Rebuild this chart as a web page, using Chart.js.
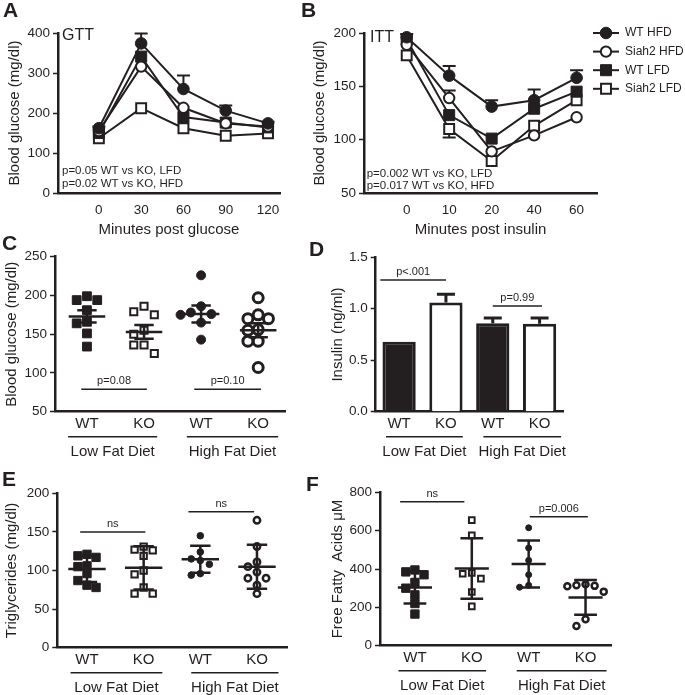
<!DOCTYPE html>
<html>
<head>
<meta charset="utf-8">
<title>Siah2 metabolic panels</title>
<script src="https://cdn.jsdelivr.net/npm/chart.js@4.4.1/dist/chart.umd.min.js"></script>
<style>
  html, body { margin: 0; background: #fff; }
  #figure { position: relative; width: 685px; height: 695px; }
  #figure canvas { position: absolute; left: 0; top: 0; }
</style>
</head>
<body>
<div id="figure">
  <canvas id="gtt" width="685" height="695"></canvas>
  <canvas id="itt" width="685" height="695"></canvas>
  <canvas id="glucose" width="685" height="695"></canvas>
  <canvas id="insulin" width="685" height="695"></canvas>
  <canvas id="tg" width="685" height="695"></canvas>
  <canvas id="ffa" width="685" height="695"></canvas>
</div>
<script>
const INK = "#231f20";
const PAPER = "#ffffff";
const FONT = 'Arial, "Liberation Sans", Helvetica, sans-serif';
const FIG_W = 685;
const FIG_H = 695;

// A - glucose tolerance test (mean, upward SEM)
const gttMinutes = [0, 30, 60, 90, 120];
const gttWtHfd = [162, 374, 260, 206, 174];
const gttWtHfdErr = [4, 25, 34, 13, 4];
const gttKoHfd = [155, 316, 213, 174, 166];
const gttWtLfd = [150, 341, 190, 176, 164];
const gttKoLfd = [137, 212, 162, 143, 149];

// B - insulin tolerance test
const ittMinutes = ["0", "10", "20", "40", "60"];
const ittWtHfd = [196, 160, 131, 137, 158];
const ittWtHfdErr = [3, 9, 6, 10, 7];
const ittKoHfd = [189, 139, 89, 104, 121];
const ittKoHfdErr = [0, 7, 0, 0, 0];
const ittWtLfd = [194, 123, 101, 129, 145];
const ittKoLfd = [179, 110, 80, 113, 137];
const ittKoLfdErr = [0, 8, 0, 0, 0];

const groupPos = [1, 2, 3, 4];
const groupLabels = ["WT", "KO", "WT", "KO"];

// C - fasting blood glucose, per mouse (mean ± SEM)
const bgWtLfd = [199, 194, 194, 181, 166, 164, 151, 134];
const bgKoLfd = [186, 179, 175, 155, 150, 136, 136, 125];
const bgWtHfd = [226, 186, 178, 176, 175, 165, 143];
const bgKoHfd = [197, 175, 170, 170, 156, 155, 141, 141, 107];
const bgMean = [173, 153, 176, 155];
const bgSem = [8, 9, 11, 9];

// D - insulin (mean + SEM)
const insulinMean = [0.68, 1.06, 0.86, 0.855];
const insulinSem = [0, 0.08, 0.05, 0.055];

// E - triglycerides (mean ± SD)
const tgWtLfd = [121, 119, 117, 106, 105, 96, 87, 81, 78];
const tgKoLfd = [131, 127, 126, 119, 100, 95, 78, 70, 70];
const tgWtHfd = [145, 124, 115, 113, 108, 96, 94];
const tgKoHfd = [165, 131, 111, 105, 98, 90, 90, 81, 70];
const tgMean = [102, 103.5, 114.5, 105];
const tgSd = [17, 28, 17.5, 28.5];

// F - free fatty acids (mean ± SD)
const ffaWtLfd = [395, 385, 370, 330, 300, 265, 220, 165];
const ffaKoLfd = [655, 575, 380, 375, 350, 280, 205];
const ffaWtHfd = [615, 510, 445, 370, 315, 305];
const ffaKoHfd = [320, 315, 312, 310, 282, 138, 103];
const ffaMean = [304, 403, 426, 252];
const ffaSd = [84, 158, 122, 91];

Chart.defaults.font.family = FONT;
Chart.defaults.color = INK;

const lineMarkers = [
  { shape: "circle", r: 5.8, fill: INK, bw: 1 },
  { shape: "circle", r: 5.2, fill: PAPER, bw: 2 },
  { shape: "rect", r: 7.8, fill: INK, bw: 1 },
  { shape: "rect", r: 7, fill: PAPER, bw: 2 },
];

// page box -> layout padding + fixed axis sizes
const frame = (box) => {
  const padLeft = box.yTitleX - 9;
  const padBottom = box.xTitleY ? FIG_H - box.xTitleY - 9 : FIG_H - box.bottom - 30;
  return {
    padding: { left: padLeft, top: box.top, right: FIG_W - box.right, bottom: padBottom },
    yWidth: box.left - padLeft,
    xHeight: FIG_H - padBottom - box.bottom,
  };
};

const yAxis = (min, max, step, title, width, fmt) => ({
  type: "linear",
  min,
  max,
  ticks: { stepSize: step, padding: 3, font: { size: 13.5 }, callback: fmt || ((v) => v) },
  grid: { drawOnChartArea: false, tickLength: 5, tickColor: INK, tickWidth: 1.5 },
  border: { color: INK, width: 2.5 },
  title: { display: true, text: title, font: { size: 15 }, padding: 0 },
  afterFit: (s) => { s.width = width; },
});

const xAxis = (min, max, values, labels, height, o) => ({
  type: "linear",
  min,
  max,
  afterBuildTicks: (s) => { s.ticks = values.map((v) => ({ value: v })); },
  ticks: { autoSkip: false, maxRotation: 0, padding: o.pad, font: { size: o.size }, callback: (v, i) => labels[i] },
  grid: { drawOnChartArea: false, drawTicks: false },
  border: { color: INK, width: 2.5 },
  title: { display: !!o.title, text: o.title || "", font: { size: 15 }, padding: 0 },
  afterFit: (s) => { s.height = height; },
});

const lineSet = (label, xs, ys, m, err, errDir) => ({
  label,
  data: xs.map((x, i) => ({ x, y: ys[i] })),
  err,
  errDir,
  clip: false,
  borderColor: INK,
  borderWidth: 2,
  pointStyle: m.shape,
  pointRadius: m.r,
  pointBackgroundColor: m.fill,
  pointBorderColor: INK,
  pointBorderWidth: m.bw,
});

// GraphPad-like column scatter: same-level points go side by side
const swarm = (values, pos, near, step) => {
  const placed = [];
  const slots = [0, -1, 1, -2, 2, -3, 3];
  return values.map((v) => {
    let k = slots.find((s) => !placed.some((p) => p.s === s && Math.abs(p.v - v) < near));
    if (k === undefined) k = 0;
    placed.push({ s: k, v });
    return { x: pos + k * step, y: v };
  });
};

const dotSet = (values, pos, m, near, step) => ({
  data: swarm(values, pos, near, step),
  clip: false,
  pointStyle: m.shape,
  pointRadius: m.r,
  pointBackgroundColor: m.fill,
  pointBorderColor: INK,
  pointBorderWidth: m.bw,
});

const decor = {
  id: "decor",
  beforeDatasetsDraw(chart, args, o) {
    const { ctx } = chart;
    const ys = chart.scales.y;
    ctx.save();
    ctx.strokeStyle = INK;
    ctx.lineWidth = o.errWidth || 2;
    chart.data.datasets.forEach((ds, i) => {
      if (!ds.err) return;
      chart.getDatasetMeta(i).data.forEach((pt, j) => {
        const e = ds.err[j];
        if (!e) return;
        const raw = ds.data[j];
        const val = typeof raw === "object" ? raw.y : raw;
        const ty = ys.getPixelForValue(val + (ds.errDir || 1) * e);
        ctx.beginPath();
        ctx.moveTo(pt.x, pt.y);
        ctx.lineTo(pt.x, ty);
        ctx.moveTo(pt.x - o.cap, ty);
        ctx.lineTo(pt.x + o.cap, ty);
        ctx.stroke();
      });
    });
    ctx.restore();
  },
  afterDatasetsDraw(chart, args, o) {
    const { ctx, chartArea: ca } = chart;
    const xs = chart.scales.x;
    const ys = chart.scales.y;
    ctx.save();
    ctx.strokeStyle = INK;
    ctx.fillStyle = INK;

    if (o.summary) {
      const s = o.summary;
      ctx.lineWidth = s.width;
      groupPos.forEach((p, i) => {
        const ym = ys.getPixelForValue(s.mean[i]);
        const yt = ys.getPixelForValue(s.mean[i] + s.err[i]);
        const yb = ys.getPixelForValue(s.mean[i] - s.err[i]);
        const xc = xs.getPixelForValue(p);
        ctx.beginPath();
        ctx.moveTo(xs.getPixelForValue(p - s.half), ym);
        ctx.lineTo(xs.getPixelForValue(p + s.half), ym);
        ctx.moveTo(xs.getPixelForValue(p - s.cap), yt);
        ctx.lineTo(xs.getPixelForValue(p + s.cap), yt);
        ctx.moveTo(xs.getPixelForValue(p - s.cap), yb);
        ctx.lineTo(xs.getPixelForValue(p + s.cap), yb);
        ctx.moveTo(xc, yt);
        ctx.lineTo(xc, yb);
        ctx.stroke();
      });
    }

    (o.sig || []).forEach((s) => {
      const x0 = xs.getPixelForValue(s.x1);
      const x1 = xs.getPixelForValue(s.x2);
      const y = ys.getPixelForValue(s.y);
      ctx.lineWidth = 1.5;
      ctx.beginPath();
      ctx.moveTo(x0, y);
      ctx.lineTo(x1, y);
      ctx.stroke();
      ctx.font = `11px ${FONT}`;
      ctx.textAlign = "center";
      ctx.textBaseline = "alphabetic";
      ctx.fillText(s.text, (x0 + x1) / 2, y - 5);
    });

    (o.diets || []).forEach((d) => {
      const x0 = xs.getPixelForValue(d.x1);
      const x1 = xs.getPixelForValue(d.x2);
      const y = ca.bottom + 25;
      ctx.lineWidth = 1.5;
      ctx.beginPath();
      ctx.moveTo(x0, y);
      ctx.lineTo(x1, y);
      ctx.stroke();
      ctx.font = `15px ${FONT}`;
      ctx.textAlign = "center";
      ctx.textBaseline = "middle";
      ctx.fillText(d.text, (x0 + x1) / 2, ca.bottom + 40.5);
    });

    (o.notes || []).forEach((n) => {
      ctx.font = `${n.size}px ${FONT}`;
      ctx.textAlign = "left";
      ctx.textBaseline = "alphabetic";
      ctx.fillText(n.text, ca.left + n.dx, ca.top + n.dy);
    });

    if (o.legend) {
      const { dx, dy, gap } = o.legend;
      chart.data.datasets.forEach((ds, i) => {
        const x = ca.right + dx;
        const y = ca.top + dy + i * gap;
        ctx.lineWidth = 2;
        ctx.beginPath();
        ctx.moveTo(x - 13, y);
        ctx.lineTo(x + 13, y);
        ctx.stroke();
        ctx.fillStyle = ds.pointBackgroundColor;
        ctx.lineWidth = ds.pointBorderWidth;
        Chart.helpers.drawPoint(ctx, { pointStyle: ds.pointStyle, radius: ds.pointRadius, rotation: 0, borderWidth: ds.pointBorderWidth }, x, y);
        ctx.fillStyle = INK;
        ctx.font = `12px ${FONT}`;
        ctx.textAlign = "left";
        ctx.textBaseline = "middle";
        ctx.fillText(ds.label, x + 19, y);
      });
    }

    if (o.letter) {
      ctx.font = `bold 21px ${FONT}`;
      ctx.textAlign = "left";
      ctx.textBaseline = "alphabetic";
      ctx.fillText(o.letter.text, o.letter.x, o.letter.y);
    }
    ctx.restore();
  },
};

const baseOptions = (box, scales, decorOpts) => {
  const f = frame(box);
  return {
    responsive: false,
    animation: false,
    events: [],
    layout: { padding: f.padding },
    plugins: { legend: { display: false }, tooltip: { enabled: false }, decor: decorOpts },
    scales: scales(f),
  };
};

const makeChart = (id, config) => new Chart(document.getElementById(id), { ...config, plugins: [decor] });

// ---------- A
makeChart("gtt", {
  type: "line",
  data: {
    datasets: [
      lineSet("WT HFD", gttMinutes, gttWtHfd, lineMarkers[0], gttWtHfdErr),
      lineSet("Siah2 HFD", gttMinutes, gttKoHfd, lineMarkers[1]),
      lineSet("WT LFD", gttMinutes, gttWtLfd, lineMarkers[2]),
      lineSet("Siah2 LFD", gttMinutes, gttKoLfd, lineMarkers[3]),
    ],
  },
  options: baseOptions(
    { left: 58, top: 33, right: 280, bottom: 193, yTitleX: 15, xTitleY: 230 },
    (f) => ({
      x: xAxis(-29, 128.5, gttMinutes, gttMinutes, f.xHeight, { pad: 8.9, size: 13.5, title: "Minutes post glucose" }),
      y: yAxis(0, 400, 100, "Blood glucose (mg/dl)", f.yWidth),
    }),
    {
      letter: { text: "A", x: 3, y: 17 },
      cap: 6.5,
      notes: [
        { text: "GTT", dx: 4, dy: 7, size: 16 },
        { text: "p=0.05 WT vs KO, LFD", dx: 4, dy: 141, size: 11.5 },
        { text: "p=0.02 WT vs KO, HFD", dx: 4, dy: 153.7, size: 11.5 },
      ],
    },
  ),
});

// ---------- B
const ittX = ittMinutes.map((_, i) => i);
makeChart("itt", {
  type: "line",
  data: {
    datasets: [
      lineSet("WT HFD", ittX, ittWtHfd, lineMarkers[0], ittWtHfdErr),
      lineSet("Siah2 HFD", ittX, ittKoHfd, lineMarkers[1], ittKoHfdErr),
      lineSet("WT LFD", ittX, ittWtLfd, lineMarkers[2]),
      lineSet("Siah2 LFD", ittX, ittKoLfd, lineMarkers[3], ittKoLfdErr, -1),
    ],
  },
  options: baseOptions(
    { left: 364, top: 33, right: 597, bottom: 193, yTitleX: 320, xTitleY: 230 },
    (f) => ({
      x: xAxis(-1.005, 4.48, ittX, ittMinutes, f.xHeight, { pad: 8.9, size: 13.5, title: "Minutes post insulin" }),
      y: yAxis(50, 200, 50, "Blood glucose (mg/dl)", f.yWidth),
    }),
    {
      letter: { text: "B", x: 301, y: 17 },
      cap: 6.5,
      notes: [
        { text: "ITT", dx: 6, dy: 8.7, size: 16 },
        { text: "p=0.002 WT vs KO, LFD", dx: 2.7, dy: 143.7, size: 11.5 },
        { text: "p=0.017 WT vs KO, HFD", dx: 2.7, dy: 156.3, size: 11.5 },
      ],
      legend: { dx: 9, dy: 0, gap: 18.6 },
    },
  ),
});

// ---------- C
const dotsC = [
  { shape: "rect", r: 6.2, fill: INK, bw: 1 },
  { shape: "rect", r: 5, fill: PAPER, bw: 2 },
  { shape: "circle", r: 4.5, fill: INK, bw: 1 },
  { shape: "circle", r: 5, fill: PAPER, bw: 3 },
];
makeChart("glucose", {
  type: "scatter",
  data: {
    datasets: [bgWtLfd, bgKoLfd, bgWtHfd, bgKoHfd].map((vals, i) => dotSet(vals, groupPos[i], dotsC[i], 12, 0.18)),
  },
  options: baseOptions(
    { left: 55, top: 256.7, right: 285, bottom: 411.7, yTitleX: 12 },
    (f) => ({
      x: xAxis(0.44, 4.47, groupPos, groupLabels, f.xHeight, { pad: 3, size: 15 }),
      y: yAxis(50, 250, 50, "Blood glucose (mg/dl)", f.yWidth),
    }),
    {
      letter: { text: "C", x: 2, y: 250 },
      summary: { mean: bgMean, err: bgSem, half: 0.32, cap: 0.17, width: 2.5 },
      sig: [
        { x1: 0.9, x2: 2.05, y: 79, text: "p=0.08" },
        { x1: 2.88, x2: 4.05, y: 79, text: "p=0.10" },
      ],
      diets: [
        { x1: 0.67, x2: 2.23, text: "Low Fat Diet" },
        { x1: 2.75, x2: 4.35, text: "High Fat Diet" },
      ],
    },
  ),
});

// ---------- D
makeChart("insulin", {
  type: "bar",
  data: {
    labels: groupLabels,
    datasets: [
      {
        data: insulinMean,
        err: insulinSem,
        backgroundColor: [INK, PAPER, INK, PAPER],
        borderColor: INK,
        borderWidth: 3,
        barPercentage: 0.71,
        categoryPercentage: 1,
      },
    ],
  },
  options: baseOptions(
    { left: 375.7, top: 257.3, right: 563, bottom: 411.7, yTitleX: 338 },
    (f) => ({
      x: {
        type: "category",
        offset: true,
        ticks: { padding: 3, font: { size: 15 } },
        grid: { drawOnChartArea: false, drawTicks: false },
        border: { color: INK, width: 2.5 },
        afterFit: (s) => { s.height = f.xHeight; },
      },
      y: yAxis(0, 1.5, 0.5, "Insulin (ng/ml)", f.yWidth, (v) => v.toFixed(1)),
    }),
    {
      letter: { text: "D", x: 309, y: 256 },
      cap: 9,
      errWidth: 3,
      sig: [
        { x1: -0.4, x2: 1.0, y: 1.28, text: "p<.001" },
        { x1: 2.0, x2: 3.05, y: 1.026, text: "p=0.99" },
      ],
      diets: [
        { x1: -0.28, x2: 1.36, text: "Low Fat Diet" },
        { x1: 1.8, x2: 3.46, text: "High Fat Diet" },
      ],
    },
  ),
});

// ---------- E
const dotsE = [
  { shape: "rect", r: 5.9, fill: INK, bw: 1 },
  { shape: "rect", r: 4.5, fill: PAPER, bw: 2 },
  { shape: "circle", r: 3.3, fill: INK, bw: 1 },
  { shape: "circle", r: 3.2, fill: PAPER, bw: 2.5 },
];
makeChart("tg", {
  type: "scatter",
  data: {
    datasets: [tgWtLfd, tgKoLfd, tgWtHfd, tgKoHfd].map((vals, i) => dotSet(vals, groupPos[i], dotsE[i], 10, 0.16)),
  },
  options: baseOptions(
    { left: 57.3, top: 493.3, right: 287, bottom: 647.7, yTitleX: 12 },
    (f) => ({
      x: xAxis(0.476, 4.53, groupPos, groupLabels, f.xHeight, { pad: 3, size: 15 }),
      y: yAxis(0, 200, 50, "Triglycerides (mg/dl)", f.yWidth),
    }),
    {
      letter: { text: "E", x: 2, y: 486 },
      summary: { mean: tgMean, err: tgSd, half: 0.33, cap: 0.18, width: 2.5 },
      sig: [
        { x1: 0.88, x2: 2.03, y: 150, text: "ns" },
        { x1: 2.79, x2: 3.95, y: 176, text: "ns" },
      ],
      diets: [
        { x1: 0.71, x2: 2.33, text: "Low Fat Diet" },
        { x1: 2.84, x2: 4.38, text: "High Fat Diet" },
      ],
    },
  ),
});

// ---------- F
const dotsF = [
  { shape: "rect", r: 5.9, fill: INK, bw: 1 },
  { shape: "rect", r: 4, fill: PAPER, bw: 2 },
  { shape: "circle", r: 3, fill: INK, bw: 1 },
  { shape: "circle", r: 3, fill: PAPER, bw: 2.5 },
];
makeChart("ffa", {
  type: "scatter",
  data: {
    datasets: [ffaWtLfd, ffaKoLfd, ffaWtHfd, ffaKoHfd].map((vals, i) => dotSet(vals, groupPos[i], dotsF[i], 42, 0.16)),
  },
  options: baseOptions(
    { left: 380, top: 492.3, right: 611.7, bottom: 645.7, yTitleX: 338 },
    (f) => ({
      x: xAxis(0.386, 4.46, groupPos, groupLabels, f.xHeight, { pad: 3, size: 15 }),
      y: yAxis(0, 800, 200, "Free Fatty  Acids μM", f.yWidth),
    }),
    {
      letter: { text: "F", x: 306, y: 491 },
      summary: { mean: ffaMean, err: ffaSd, half: 0.3, cap: 0.2, width: 2.5 },
      sig: [
        { x1: 0.74, x2: 1.87, y: 751, text: "ns" },
        { x1: 3.02, x2: 4.04, y: 673, text: "p=0.006" },
      ],
      diets: [
        { x1: 0.71, x2: 2.25, text: "Low Fat Diet" },
        { x1: 2.79, x2: 4.37, text: "High Fat Diet" },
      ],
    },
  ),
});
</script>
</body>
</html>
